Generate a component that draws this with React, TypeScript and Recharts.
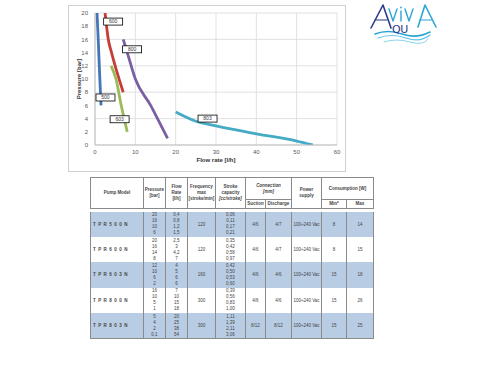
import React from "react";
import {
  ComposedChart,
  Line,
  Scatter,
  XAxis,
  YAxis,
  CartesianGrid,
  Label,
} from "recharts";

// curves (flow l/h, pressure bar)
const flow500 = [0.5, 0.8, 1.2, 1.5];
const pres500 = [20, 16, 10, 6];
const flow600 = [2.5, 3.3, 4.1, 7];
const pres600 = [20, 16, 14, 8];
const flow603 = [4, 5.2, 6.5, 8];
const pres603 = [12, 10, 6, 2];
const flow800 = [7, 8, 10, 13.8, 15.5, 18];
const pres800 = [16, 14, 10, 6, 4, 1];
const flow803 = [20, 25, 30, 40, 50, 54];
const pres803 = [5, 3.6, 2.9, 1.7, 0.6, 0];

const tagNames = ["600", "800", "500", "603", "803"];
const tagFlow = [4.5, 9.2, 2.6, 6.1, 27.9];
const tagPres = [18.7, 14.5, 7.2, 3.9, 4.0];

const xTicks = [0, 10, 20, 30, 40, 50, 60];
const yTicks = [0, 2, 4, 6, 8, 10, 12, 14, 16, 18, 20];

// table
const models = ["T P R 5 0 0 N", "T P R 6 0 0 N", "T P R 6 0 3 N", "T P R 8 0 0 N", "T P R 8 0 3 N"];
const pressures = [
  ["20", "16", "10", "6"],
  ["20", "16", "14", "8"],
  ["12", "10", "6", "2"],
  ["16", "10", "5", "1"],
  ["5", "4", "2", "0,1"],
];
const flows = [
  ["0,4", "0,8", "1,2", "1,5"],
  ["2,5", "3", "4,2", "7"],
  ["4", "5", "6", "6"],
  ["7", "10", "15", "18"],
  ["20", "25", "38", "54"],
];
const frequency = ["120", "120", "160", "300", "300"];
const strokes = [
  ["0,06", "0,11", "0,17", "0,21"],
  ["0,35", "0,42", "0,58", "0,97"],
  ["0,42", "0,50", "0,53", "0,60"],
  ["0,39", "0,56", "0,83", "1,00"],
  ["1,11", "1,39", "2,11", "3,06"],
];
const suction = ["4/6", "4/6", "4/6", "4/6", "8/12"];
const discharge = ["4/7", "4/7", "4/6", "4/6", "8/12"];
const power = ["100÷240 Vac", "100÷240 Vac", "100÷240 Vac", "100÷240 Vac", "100÷240 Vac"];
const consMin = ["8", "8", "15", "15", "15"];
const consMax = ["14", "15", "18", "26", "25"];

const colWidths = [53, 22, 22, 28, 30, 20, 26, 30, 25, 27];

const zip = (xs: number[], ys: number[]) => xs.map((x, i) => ({ x, y: ys[i] }));

const series = [
  { name: "500", data: zip(flow500, pres500), color: "#4475B8" },
  { name: "600", data: zip(flow600, pres600), color: "#C43E36" },
  { name: "603", data: zip(flow603, pres603), color: "#9BBB59" },
  { name: "800", data: zip(flow800, pres800), color: "#7A5FA3" },
  { name: "803", data: zip(flow803, pres803), color: "#45AAC4" },
];

const tags = tagNames.map((name, i) => ({ x: tagFlow[i], y: tagPres[i], name }));

const TagBox = (props: any) => {
  const { cx, cy, payload } = props;
  return (
    <g>
      <rect x={cx - 9.5} y={cy - 3.5} width={19} height={7} fill="#fff" stroke="#000" strokeWidth={0.8} />
      <text x={cx} y={cy + 1.8} textAnchor="middle" fontSize={5} fill="#333" fontFamily="Liberation Sans, Arial">
        {payload.name}
      </text>
    </g>
  );
};

const tickStyle = { fontSize: 6, fill: "#595959", fontFamily: "Liberation Sans, Arial" };

const XTitle = (props: any) => {
  const vb = props.viewBox || { x: 26, y: 139, width: 242, height: 26 };
  return (
    <text
      x={vb.x + vb.width / 2}
      y={vb.y + 17}
      textAnchor="middle"
      fontSize={6}
      fontWeight="bold"
      fill="#333"
      fontFamily="Liberation Sans, Arial"
    >
      Flow rate [l/h]
    </text>
  );
};

const Lines = ({ vals }: { vals: string[] }) => (
  <>
    {vals.map((v, i) => (
      <div key={i} style={{ lineHeight: "6px" }}>{v}</div>
    ))}
  </>
);

const border = "1px solid #8a8a8a";

function Logo() {
  return (
    <svg width={80} height={44} style={{ position: "absolute", left: 366, top: 1 }}>
      <g fill="none" strokeLinecap="round" strokeLinejoin="round">
        <path d="M5 27 L17 4 L25 27" stroke="#2d3a8a" strokeWidth={1.6} />
        <path d="M9 19 L21 19" stroke="#2d3a8a" strokeWidth={1.2} />
        <path d="M23 8 L27 20 L31 8" stroke="#2aa6d6" strokeWidth={1.4} />
        <path d="M35 10 L35 20" stroke="#2aa6d6" strokeWidth={1.4} />
        <circle cx={35} cy={6.5} r={0.9} fill="#2aa6d6" stroke="none" />
        <path d="M39 8 L43 20 L47 8" stroke="#2aa6d6" strokeWidth={1.4} />
        <path d="M52 26 L59 4 L70 26" stroke="#2aa6d6" strokeWidth={1.6} />
        <path d="M54 19 L66 19" stroke="#2aa6d6" strokeWidth={1.2} />
        <path d="M9 33 Q22 28 36 33 T64 31" stroke="#2aa6d6" strokeWidth={1.6} />
        <path d="M12 37 Q26 32 40 37 T64 34" stroke="#5fc3e6" strokeWidth={1.2} />
        <path d="M18 41 Q30 37 44 41 T62 38" stroke="#8ad3ee" strokeWidth={1} />
      </g>
      <text x={26} y={32} fontSize={11} fill="#2d3a8a" fontFamily="DejaVu Sans" letterSpacing={-0.5}>
        QU
      </text>
    </svg>
  );
}

export default function App() {
  const th: React.CSSProperties = { border, fontWeight: "bold", padding: 0, textAlign: "center", verticalAlign: "middle", lineHeight: "6px" };
  return (
    <div style={{ position: "absolute", left: 0, top: 0, width: 500, height: 375, background: "#fff", fontFamily: "Liberation Sans, Arial, sans-serif" }}>
      <div style={{ position: "absolute", left: 68, top: 5, width: 278, height: 167, border: "1px solid #d0d0d0", boxSizing: "border-box" }}>
        <ComposedChart width={276} height={165} margin={{ top: 7, right: 8, left: 0, bottom: 0 }}>
          <CartesianGrid stroke="#d9d9d9" strokeWidth={0.8} />
          <XAxis
            type="number"
            dataKey="x"
            domain={[0, 60]}
            ticks={xTicks}
            allowDataOverflow
            height={26}
            tick={tickStyle}
            tickLine={false}
            tickSize={0}
            tickMargin={5}
            stroke="#bfbfbf"
          >
            <Label content={XTitle} />
          </XAxis>
          <YAxis
            type="number"
            dataKey="y"
            domain={[0, 20]}
            ticks={yTicks}
            allowDataOverflow
            width={26}
            tick={tickStyle}
            tickLine={false}
            tickSize={0}
            tickMargin={7}
            stroke="#bfbfbf"
            label={{ value: "Pressure [bar]", angle: -90, position: "insideLeft", offset: 10, style: { textAnchor: "middle", fontSize: 6, fontWeight: "bold", fill: "#333", fontFamily: "Liberation Sans, Arial" } }}
          />
          {series.map((s) => (
            <Line
              key={s.name}
              data={s.data}
              dataKey="y"
              type="monotone"
              stroke={s.color}
              strokeWidth={2.8}
              dot={false}
              isAnimationActive={false}
            />
          ))}
          <Scatter data={tags} dataKey="y" shape={TagBox} isAnimationActive={false} />
        </ComposedChart>
      </div>

      <Logo />

      <table
        style={{
          position: "absolute",
          left: 90,
          top: 177,
          width: 283,
          borderCollapse: "collapse",
          tableLayout: "fixed",
          fontSize: 4.5,
          color: "#444",
        }}
      >
        <colgroup>
          {colWidths.map((w, i) => (
            <col key={i} style={{ width: w }} />
          ))}
        </colgroup>
        <tbody>
          <tr style={{ height: 22 }}>
            <td rowSpan={2} style={th}>Pump Model</td>
            <td rowSpan={2} style={th}>Pressure<br />[bar]</td>
            <td rowSpan={2} style={th}>Flow<br />Rate<br />[l/h]</td>
            <td rowSpan={2} style={th}>Frequency<br />max<br />[stroke/min]</td>
            <td rowSpan={2} style={th}>Stroke<br />capacity<br /><i>[cc/stroke]</i></td>
            <td colSpan={2} style={th}><i>Connection<br />[mm]</i></td>
            <td rowSpan={2} style={th}>Power<br />supply</td>
            <td colSpan={2} style={th}>Consumption [W]</td>
          </tr>
          <tr style={{ height: 9 }}>
            <td style={th}>Suction</td>
            <td style={th}>Discharge</td>
            <td style={th}>Min*</td>
            <td style={th}>Max</td>
          </tr>
          <tr style={{ height: 3 }}>
            <td colSpan={10} style={{ padding: 0, border: "none" }} />
          </tr>
          {models.map((m, r) => {
            const bg = r % 2 === 0 ? "#b8cce4" : "#fff";
            const td: React.CSSProperties = {
              borderLeft: border,
              borderRight: border,
              borderBottom: r === models.length - 1 ? border : "none",
              padding: 0,
              textAlign: "center",
              verticalAlign: "middle",
              background: bg,
            };
            return (
              <tr key={m} style={{ height: 25.4 }}>
                <td style={{ ...td, textAlign: "left", paddingLeft: 2, fontWeight: "bold", letterSpacing: 0.6 }}>{m}</td>
                <td style={td}><Lines vals={pressures[r]} /></td>
                <td style={td}><Lines vals={flows[r]} /></td>
                <td style={td}>{frequency[r]}</td>
                <td style={td}><Lines vals={strokes[r]} /></td>
                <td style={td}>{suction[r]}</td>
                <td style={td}>{discharge[r]}</td>
                <td style={td}>{power[r]}</td>
                <td style={td}>{consMin[r]}</td>
                <td style={td}>{consMax[r]}</td>
              </tr>
            );
          })}
        </tbody>
      </table>
    </div>
  );
}
